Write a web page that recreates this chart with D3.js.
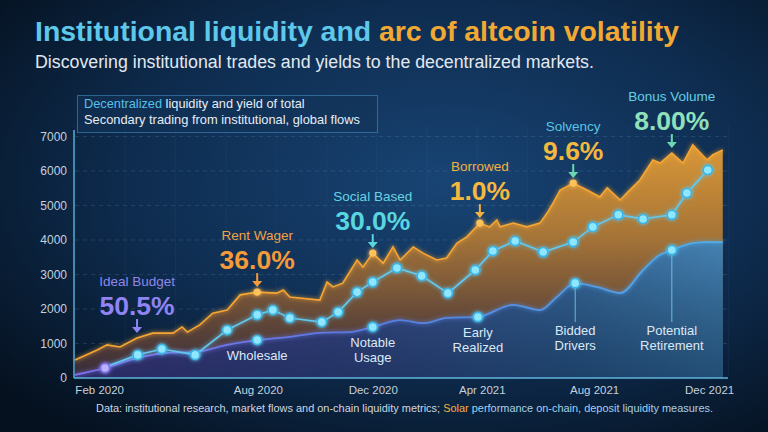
<!DOCTYPE html>
<html lang="en">
<head>
<meta charset="UTF-8">
<title>Institutional liquidity and arc of altcoin volatility</title>
<script src="https://d3js.org/d3.v7.min.js"></script>
<style>
  html, body { margin: 0; padding: 0; background: #081a30; overflow: hidden; }
  svg { display: block; font-family: "Liberation Sans", Arial, sans-serif; }
</style>
</head>
<body>
<svg id="chart" width="768" height="432"></svg>
<script>
// ---- values ----
const orangeT = [0, 3.4, 4.9, 6.9, 9.5, 11.9, 15.0, 16.4, 17.2, 19.1, 21.1, 23.3, 25.3, 27.9, 30.9, 31.9, 32.9, 37.5, 38.6, 39.5,
                 41.0, 43.2, 44.1, 45.6, 47.2, 48.7, 49.8, 51.8, 53.3, 55.4, 56.9, 58.5, 60.0, 62.0, 63.5, 64.6, 65.1, 67.1, 69.2, 71.2,
                 72.3, 73.2, 74.3, 76.3, 78.4, 80.4, 81.5, 83.5, 84.5, 86.5, 88.5, 89.6, 91.4, 93.1, 94.6, 96.8, 97.7, 99.2];
const orangeV = [520, 810, 960, 900, 1160, 1300, 1300, 1480, 1330, 1540, 1880, 1970, 2410, 2490, 2460, 2550, 2350, 2260, 2780, 2640,
                 2750, 3420, 3220, 3620, 3330, 3800, 3420, 3800, 3620, 3420, 3480, 3910, 4090, 4490, 4380, 4580, 4380, 4490, 4380, 4490,
                 4780, 5070, 5450, 5650, 5450, 5250, 5510, 5160, 5360, 5740, 6320, 6230, 6520, 6230, 6760, 6320, 6470, 6610];

const cyanT = [4.6, 9.6, 13.3, 18.4, 23.3, 27.9, 30.3, 32.9, 37.8, 40.3, 43.2, 45.6, 49.3, 53.1, 57.1, 61.3, 64.0, 67.4, 71.7,
               76.3, 79.3, 83.2, 87.0, 91.4, 93.7, 96.9];
const cyanV = [320, 670, 840, 670, 1390, 1830, 1970, 1740, 1620, 1910, 2490, 2780, 3190, 2960, 2460, 3130, 3680, 3970, 3650,
               3940, 4380, 4730, 4610, 4730, 5360, 6030];

const blueT = [0, 4.6, 9.6, 14.1, 18.1, 23.3, 27.9, 32.9, 37.5, 42.1, 45.6, 49.8, 53.3, 57.0, 61.7, 67.1, 71.2, 73.8, 76.6,
               79.9, 83.5, 87.0, 89.1, 91.4, 94.6, 96.5, 99.2];
const blueV = [90, 290, 580, 730, 750, 960, 1100, 1190, 1310, 1330, 1480, 1680, 1590, 1740, 1770, 2120, 1970, 2350, 2750,
               2640, 2460, 3130, 3510, 3710, 3910, 3940, 3940];

const yTicks = [0, 1000, 2000, 3000, 4000, 5000, 6000, 7000];
const xTickT = [3.7, 28.0, 45.6, 62.3, 79.5, 97.1];
const xTickLabels = ["Feb 2020", "Aug 2020", "Dec 2020", "Apr 2021", "Aug 2021", "Dec 2021"];

// callouts point at peaks of the orange series
const calloutIdx = [4, 13, 23, 33, 43, 52];
const calloutLabels = ["Ideal Budget", "Rent Wager", "Social Based", "Borrowed", "Solvency", "Bonus Volume"];
const calloutValues = ["50.5%", "36.0%", "30.0%", "1.0%", "9.6%", "8.00%"];
const calloutLabelColors = ["#8f88ea", "#f2a245", "#66d4e4", "#f2b244", "#5cc4e6", "#66cfe6"];
const calloutValueColors = ["#8f84f2", "#f59a38", "#58d6e0", "#f5b83e", "#f5b83e", "#8fe0bb"];
const calloutArrowColors = ["#8f84f2", "#f59a38", "#58d6d8", "#f2b040", "#6cd8b0", "#6cd8b0"];

// notes under markers on the blue series
const noteIdx = [6, 10, 14, 18, 23];
const noteText = [["Wholesale"], ["Notable", "Usage"], ["Early", "Realized"], ["Bidded", "Drivers"], ["Potential", "Retirement"]];
const purpleMarkerIdx = 1;

const W = 768, H = 432;
const svg = d3.select("#chart");
const defs = svg.append("defs");

// background
const bg = defs.append("radialGradient").attr("id", "bg")
  .attr("cx", "58%").attr("cy", "42%").attr("r", "75%");
bg.append("stop").attr("offset", "0%").attr("stop-color", "#184474");
bg.append("stop").attr("offset", "55%").attr("stop-color", "#0e2c4f");
bg.append("stop").attr("offset", "100%").attr("stop-color", "#05111f");
svg.append("rect").attr("width", W).attr("height", H).attr("fill", "url(#bg)");

const glow = defs.append("filter").attr("id", "glow")
  .attr("x", "-50%").attr("y", "-50%").attr("width", "200%").attr("height", "200%");
glow.append("feGaussianBlur").attr("stdDeviation", 2.2).attr("result", "b");
const gm = glow.append("feMerge");
gm.append("feMergeNode").attr("in", "b");
gm.append("feMergeNode").attr("in", "SourceGraphic");

const x = d3.scaleLinear().domain([0, 100]).range([75, 728]);
const y = d3.scaleLinear().domain([0, 7000]).range([378, 136.5]);

const orange = orangeT.map((t, i) => ({ t, v: orangeV[i] }));
const cyan = cyanT.map((t, i) => ({ t, v: cyanV[i] }));
const blue = blueT.map((t, i) => ({ t, v: blueV[i] }));

// faint grid
svg.append("g").selectAll("line").data(d3.range(0, 101, 7.7)).join("line")
  .attr("x1", d => x(d)).attr("x2", d => x(d))
  .attr("y1", 125).attr("y2", 378)
  .attr("stroke", "#6fa3d6").attr("stroke-opacity", 0.06);
svg.append("g").selectAll("line").data(yTicks.slice(1)).join("line")
  .attr("x1", 75).attr("x2", 728)
  .attr("y1", d => y(d)).attr("y2", d => y(d))
  .attr("stroke", "#6fa3d6").attr("stroke-opacity", 0.2)
  .attr("stroke-dasharray", "4,4");

// orange area
const og = defs.append("linearGradient").attr("id", "og")
  .attr("gradientUnits", "userSpaceOnUse").attr("x1", 0).attr("x2", 0).attr("y1", 140).attr("y2", 378);
og.append("stop").attr("offset", "0%").attr("stop-color", "#eda234");
og.append("stop").attr("offset", "40%").attr("stop-color", "#b37a34");
og.append("stop").attr("offset", "75%").attr("stop-color", "#6a4a36");
og.append("stop").attr("offset", "100%").attr("stop-color", "#3a2c3a");

const area = d3.area().x(d => x(d.t)).y0(y(0)).y1(d => y(d.v));
const line = d3.line().x(d => x(d.t)).y(d => y(d.v));

svg.append("path").datum(orange).attr("d", area)
  .attr("fill", "url(#og)").attr("fill-opacity", 0.92);
svg.append("path").datum(orange).attr("d", line)
  .attr("fill", "none").attr("stroke", "#f6a632").attr("stroke-width", 1.6)
  .attr("filter", "url(#glow)");

// blue area
const bgx = defs.append("linearGradient").attr("id", "bgx")
  .attr("gradientUnits", "userSpaceOnUse").attr("x1", 75).attr("x2", 728).attr("y1", 0).attr("y2", 0);
bgx.append("stop").attr("offset", "0%").attr("stop-color", "#4b3fa0");
bgx.append("stop").attr("offset", "40%").attr("stop-color", "#3a4f9f");
bgx.append("stop").attr("offset", "75%").attr("stop-color", "#2f6aa8");
bgx.append("stop").attr("offset", "100%").attr("stop-color", "#3b86c2");
const bgy = defs.append("linearGradient").attr("id", "bgy")
  .attr("gradientUnits", "userSpaceOnUse").attr("x1", 0).attr("x2", 0).attr("y1", 240).attr("y2", 378);
bgy.append("stop").attr("offset", "0%").attr("stop-color", "#000").attr("stop-opacity", 0);
bgy.append("stop").attr("offset", "100%").attr("stop-color", "#061528").attr("stop-opacity", 0.45);
const blx = defs.append("linearGradient").attr("id", "blx")
  .attr("gradientUnits", "userSpaceOnUse").attr("x1", 75).attr("x2", 728).attr("y1", 0).attr("y2", 0);
blx.append("stop").attr("offset", "0%").attr("stop-color", "#8070f0");
blx.append("stop").attr("offset", "45%").attr("stop-color", "#5a7ae0");
blx.append("stop").attr("offset", "100%").attr("stop-color", "#4fb0ea");

const smoothArea = d3.area().x(d => x(d.t)).y0(y(0)).y1(d => y(d.v)).curve(d3.curveMonotoneX);
const smoothLine = d3.line().x(d => x(d.t)).y(d => y(d.v)).curve(d3.curveMonotoneX);
svg.append("path").datum(blue).attr("d", smoothArea).attr("fill", "url(#bgx)").attr("fill-opacity", 0.9);
svg.append("path").datum(blue).attr("d", smoothArea).attr("fill", "url(#bgy)");
svg.append("path").datum(blue).attr("d", smoothLine)
  .attr("fill", "none").attr("stroke", "url(#blx)").attr("stroke-width", 1.8)
  .attr("filter", "url(#glow)");

// cyan line with markers
svg.append("path").datum(cyan).attr("d", line)
  .attr("fill", "none").attr("stroke", "#62c8ee").attr("stroke-width", 1.7)
  .attr("filter", "url(#glow)");
svg.append("g").selectAll("circle").data(cyan.slice(1)).join("circle")
  .attr("cx", d => x(d.t)).attr("cy", d => y(d.v)).attr("r", 4.6)
  .attr("fill", "#8fe6ff").attr("stroke", "#37b4e6").attr("stroke-width", 1.6)
  .attr("filter", "url(#glow)");

// notes below blue markers
const notes = svg.append("g");
noteIdx.forEach((bi, k) => {
  const d = blue[bi];
  const mx = x(d.t), my = y(d.v);
  const base = Math.max(my + 20, 335);
  if (base - 14 > my + 6) {
    notes.append("line").attr("x1", mx).attr("x2", mx).attr("y1", my).attr("y2", base - 13)
      .attr("stroke", "#7fd2f2").attr("stroke-width", 1).attr("stroke-opacity", 0.8);
  }
  noteText[k].forEach((s, j) => {
    notes.append("text").attr("x", mx).attr("y", base + j * 15)
      .attr("text-anchor", "middle").attr("font-size", 13)
      .attr("fill", "#dce8f6").text(s);
  });
});
svg.append("g").selectAll("circle").data(noteIdx.map(i => blue[i])).join("circle")
  .attr("cx", d => x(d.t)).attr("cy", d => y(d.v)).attr("r", 4.6)
  .attr("fill", "#8fe6ff").attr("stroke", "#37b4e6").attr("stroke-width", 1.6)
  .attr("filter", "url(#glow)");
svg.append("circle").datum(blue[purpleMarkerIdx])
  .attr("cx", d => x(d.t)).attr("cy", d => y(d.v)).attr("r", 4.6)
  .attr("fill", "#b9b0ff").attr("stroke", "#7a6ae8").attr("stroke-width", 1.6)
  .attr("filter", "url(#glow)");

// orange peak markers
svg.append("g").selectAll("circle").data(calloutIdx.slice(1, 5).map(i => orange[i])).join("circle")
  .attr("cx", d => x(d.t)).attr("cy", d => y(d.v)).attr("r", 3.6)
  .attr("fill", "#ffc25a").attr("filter", "url(#glow)");

// callouts
const co = svg.append("g");
calloutIdx.forEach((oi, k) => {
  const d = orange[oi];
  const cx = x(d.t), py = y(d.v);
  const tip = py - 5;
  co.append("line").attr("x1", cx).attr("x2", cx).attr("y1", tip - 14).attr("y2", tip - 5)
    .attr("stroke", calloutArrowColors[k]).attr("stroke-width", 2);
  co.append("path").attr("d", `M${cx - 5},${tip - 6}L${cx + 5},${tip - 6}L${cx},${tip}Z`)
    .attr("fill", calloutArrowColors[k]);
  co.append("text").attr("x", cx).attr("y", py - 23).attr("text-anchor", "middle")
    .attr("font-size", 26.5).attr("font-weight", "bold").attr("fill", calloutValueColors[k])
    .text(calloutValues[k]);
  co.append("text").attr("x", cx).attr("y", py - 52).attr("text-anchor", "middle")
    .attr("font-size", 13.5).attr("fill", calloutLabelColors[k])
    .text(calloutLabels[k]);
});

// axes
const yAxis = svg.append("g").attr("transform", "translate(74,0)")
  .call(d3.axisLeft(y).tickValues(yTicks).tickFormat(d3.format("d")).tickSize(0).tickPadding(7));
yAxis.select(".domain").attr("stroke", "#5fb4dc").attr("stroke-width", 1.4).attr("d", "M0,130V378");
yAxis.selectAll("text").attr("font-size", 12).attr("fill", "#c6d0dc")
  .attr("font-family", "'Liberation Sans', Arial, sans-serif");

const xAxis = svg.append("g").attr("transform", "translate(0,378)")
  .call(d3.axisBottom(x).tickValues(xTickT).tickFormat((d, i) => xTickLabels[i]).tickSize(0).tickPadding(8));
xAxis.select(".domain").attr("stroke", "#5fb4dc").attr("stroke-width", 1.6).attr("d", "M74,0H728");
xAxis.selectAll("text").attr("font-size", 11.5).attr("fill", "#c6d0dc")
  .attr("font-family", "'Liberation Sans', Arial, sans-serif");

// text helpers
function fit(sel, width) {
  const len = sel.node().getComputedTextLength();
  const fs = parseFloat(sel.attr("font-size"));
  sel.attr("font-size", (fs * width / len).toFixed(2));
  return sel;
}

// title
const title = svg.append("text").attr("x", 35).attr("y", 41)
  .attr("font-size", 24).attr("font-weight", "bold");
title.append("tspan").attr("fill", "#5ec8ea").text("Institutional liquidity and ");
title.append("tspan").attr("fill", "#f2a934").text("arc of altcoin volatility");
fit(title, 644);

const sub = svg.append("text").attr("x", 35).attr("y", 68)
  .attr("font-size", 19).attr("fill", "#e2e8f0")
  .text("Discovering institutional trades and yields to the decentralized markets.");
fit(sub, 559);

// info box
svg.append("rect").attr("x", 77.5).attr("y", 95.5).attr("width", 300).attr("height", 37)
  .attr("fill", "#123358").attr("fill-opacity", 0.55)
  .attr("stroke", "#3c7db2").attr("stroke-opacity", 0.7);
const l1 = svg.append("text").attr("x", 84).attr("y", 108).attr("font-size", 11.5);
l1.append("tspan").attr("fill", "#58c0ea").text("Decentralized");
l1.append("tspan").attr("fill", "#e6edf5").text(" liquidity and yield of total");
fit(l1, 221);
const l2 = svg.append("text").attr("x", 84).attr("y", 124).attr("font-size", 11.5)
  .attr("fill", "#e6edf5").text("Secondary trading from institutional, global flows");
fit(l2, 276);

// footer
const foot = svg.append("text").attr("x", 96).attr("y", 412).attr("font-size", 12);
foot.append("tspan").attr("fill", "#cfd6e0")
  .text("Data: institutional research, market flows and on-chain liquidity metrics; ");
foot.append("tspan").attr("fill", "#f0b23e").text("Solar");
foot.append("tspan").attr("fill", "#a6d0ec").text(" performance on-chain, deposit liquidity measures.");
fit(foot, 617);
</script>
</body>
</html>
